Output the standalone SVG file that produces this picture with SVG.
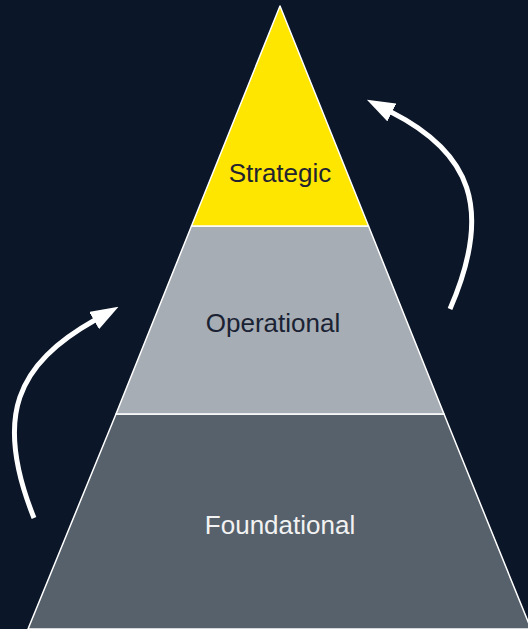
<svg xmlns="http://www.w3.org/2000/svg" width="528" height="629" viewBox="0 0 528 629">
  <style>
    .band { stroke: #ffffff; stroke-width: 1.5; stroke-linejoin: round; }
    .label { font-family: "Liberation Sans", Arial, sans-serif; font-size: 26px; text-anchor: middle; }
    .arrow { fill: none; stroke: #ffffff; stroke-width: 5; stroke-linecap: butt; }
  </style>
  <defs>
    <marker id="head" viewBox="0 0 28 20" refX="1" refY="10" markerWidth="28" markerHeight="20" markerUnits="userSpaceOnUse" orient="auto">
      <path d="M0,0 L28,10 L0,20 z" fill="#ffffff"/>
    </marker>
  </defs>
  <rect x="0" y="0" width="528" height="629" fill="#0b1628"/>
  <g id="foundational">
    <polygon class="band" points="116,414 444,414 531,629 28,629" fill="#56616c"/>
    <text class="label" x="280" y="534" fill="#f2f2f2">Foundational</text>
  </g>
  <g id="operational">
    <polygon class="band" points="191.5,226 368.5,226 444,414 116,414" fill="#a6adb4"/>
    <text class="label" x="273" y="332" fill="#1a2233">Operational</text>
  </g>
  <g id="strategic">
    <polygon class="band" points="280,6 368.5,226 191.5,226" fill="#ffe600"/>
    <text class="label" x="280" y="182" fill="#1f2430">Strategic</text>
  </g>
  <g id="connectors">
    <path class="arrow" d="M34,518 C-7,416 17,364 95,320" marker-end="url(#head)"/>
    <path class="arrow" d="M450,309 C494,208 470,152 391,112" marker-end="url(#head)"/>
  </g>
</svg>
